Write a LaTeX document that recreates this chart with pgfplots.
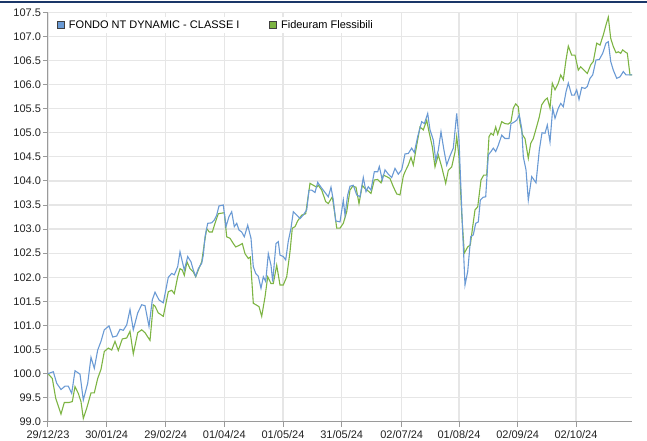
\documentclass[border=0pt]{standalone}
\usepackage{fontspec}
\setmainfont{Liberation Sans}
\usepackage{pgfplots}
\pgfplotsset{compat=1.18}
\definecolor{blueS}{HTML}{6A9AD4}
\definecolor{greenS}{HTML}{7DB443}
\definecolor{navyB}{HTML}{1A3668}
\definecolor{axisG}{HTML}{9A9A9A}
\definecolor{gridG}{HTML}{E6E6E6}
\definecolor{txt}{HTML}{222222}
\begin{document}
\begin{tikzpicture}
\useasboundingbox (-48pt,-18.2pt) rectangle (599pt,421.8pt);
\draw[navyB, line width=1.6pt] (-48pt,419.6pt) -- (599pt,419.6pt);
\begin{axis}[
  at={(0pt,0pt)}, anchor=south west,
  scale only axis, width=584pt, height=409.5pt,
  xmin=48, xmax=632, ymin=99, ymax=107.5,
  axis x line*=bottom, axis y line*=left,
  axis line style={-, draw=axisG, line width=1pt},
  xtick={48,106.7,165.7,224.3,283,341.7,401.7,459,517.7,576},
  xticklabels={29/12/23,30/01/24,29/02/24,01/04/24,01/05/24,31/05/24,02/07/24,01/08/24,02/09/24,02/10/24},
  ytick={99,99.5,...,107.5},
  yticklabel style={/pgf/number format/fixed,/pgf/number format/fixed zerofill,/pgf/number format/precision=1, xshift=1.5pt},
  /pgf/number format/assume math mode=true,
  ticklabel style={font=\fontsize{11}{13}\selectfont, text=txt},
  tick align=outside, major tick length=5pt,
  tick style={draw=axisG, line width=1pt},
  grid=major, major grid style={draw=gridG, line width=1.3pt},
  legend columns=2,
  legend cell align=left,
  legend style={at={(0.014,0.988)}, anchor=north west, draw=none, fill=white,
    font=\fontsize{11}{13}\selectfont, inner sep=1pt,
    /tikz/every even column/.append style={column sep=26pt},
    nodes={inner xsep=4pt}},
]
\addlegendimage{legend image code/.code={\draw[fill=blueS, draw=black!75, line width=0.6pt] (0pt,-3.5pt) rectangle (7pt,3.5pt);}}
\addlegendentry{FONDO NT DYNAMIC - CLASSE I}
\addlegendimage{legend image code/.code={\draw[fill=greenS, draw=black!75, line width=0.6pt] (0pt,-3.5pt) rectangle (7pt,3.5pt);}}
\addlegendentry{Fideuram Flessibili}
\addplot[greenS, line width=1.1pt, forget plot] coordinates {
(48,100.00) (52.3,99.90) (55.7,99.49) (61,99.16) (64.3,99.40) (69,99.40) (72.3,99.42) (75,99.73) (78.3,99.59) (81,99.42) (83.3,99.07) (86.7,99.28) (91,99.60) (94.3,99.60) (97.7,99.90) (101,100.09) (104.3,100.46) (108.3,100.53) (111.7,100.49) (115,100.67) (118.3,100.48) (122.3,100.72) (126.7,100.74) (130,100.88) (133.3,100.41) (137.7,100.85) (141.7,100.91) (145,100.85) (150,100.69) (153.3,101.43) (155,101.40) (158.3,101.26) (163.3,101.19) (168.3,101.70) (171.7,101.73) (174.3,101.66) (177.7,102.01) (180,102.18) (182.3,102.15) (184.3,102.04) (187,102.32) (190,102.18) (193.3,102.11) (195.7,102.01) (198.3,102.15) (201.7,102.32) (204.3,102.70) (206.7,103.01) (209.3,102.94) (212.3,102.94) (215,103.12) (218.3,103.32) (224.3,103.34) (226.7,102.84) (230,102.81) (233.3,102.70) (235.7,102.63) (239,102.66) (242.3,102.70) (245,102.49) (248.3,102.39) (250.3,102.42) (253.3,101.46) (256.7,101.42) (259,101.39) (261.7,101.19) (265,101.59) (267.7,102.01) (271,101.87) (273.3,101.87) (276.7,102.25) (280,101.84) (283.3,101.84) (286.7,102.01) (290,102.53) (292.3,103.02) (295,103.05) (297.7,103.17) (301.7,103.29) (305.7,103.32) (310,103.95) (313.3,103.91) (316.7,103.87) (318.3,103.91) (321.7,103.81) (325.7,103.57) (328.3,103.53) (332.3,103.67) (335,103.29) (336.7,103.02) (340,103.02) (343.3,103.12) (346.7,103.36) (350,103.81) (352.7,103.89) (356,103.87) (359,103.53) (362.3,103.91) (365,103.84) (368.3,103.79) (371,103.74) (374.3,104.02) (377.7,104.03) (381,103.96) (383.3,104.12) (386.7,104.09) (390,104.05) (393.3,103.88) (396.7,103.73) (400,103.71) (403.3,104.10) (405,104.19) (408.3,104.33) (411,104.49) (413.3,104.33) (416.7,104.74) (420,105.12) (423.3,105.06) (426.7,105.26) (429,105.02) (432.3,104.71) (435,104.29) (438.3,104.54) (441.7,104.29) (445.7,103.95) (448.3,104.22) (451.7,104.29) (455,104.60) (456.7,104.92) (459,104.50) (461.7,103.32) (464.3,102.50) (467.7,102.63) (470.3,102.67) (472.7,103.05) (475,103.40) (477.7,103.46) (481,104.02) (483.7,104.12) (486.7,104.12) (489,104.92) (491,104.99) (493.3,104.95) (495.7,105.12) (497.7,104.97) (501.7,105.23) (505,105.19) (508.3,105.18) (511,105.23) (513.3,105.51) (515.7,105.60) (518.3,105.54) (520,105.20) (522.7,104.95) (525,104.88) (528.3,104.47) (530.7,104.78) (533.3,104.88) (536.7,105.13) (539.3,105.33) (541.7,105.58) (545,105.68) (547.3,105.72) (550,105.51) (552.3,106.03) (555,105.89) (558.3,106.03) (560.7,106.20) (563.3,106.10) (566,106.51) (568.3,106.80) (571.7,106.61) (575,106.61) (578.3,106.30) (580.7,106.37) (584,106.30) (587.3,106.23) (590.7,106.41) (593.3,106.48) (596.7,106.86) (600,106.82) (603.3,107.03) (606,107.24) (608.3,107.40) (610.7,106.96) (613.3,106.79) (616,106.66) (618.3,106.68) (620.7,106.65) (622.7,106.72) (625,106.68) (627.3,106.65) (630,106.20) (632,106.20)
};
\addplot[blueS, line width=1.1pt, forget plot] coordinates {
(48,100.00) (53.3,100.04) (56.7,99.80) (61,99.67) (65,99.74) (68.3,99.74) (71.7,99.59) (75,100.06) (80,99.99) (83.3,99.45) (87.7,99.80) (91,100.34) (94.3,100.11) (97.7,100.49) (101,100.67) (104.3,100.91) (109,100.99) (112.7,100.76) (116.7,100.78) (120,100.92) (123.3,100.90) (126.7,101.01) (130,101.33) (133.3,100.91) (137.7,101.26) (141.7,101.43) (145,101.41) (149,100.98) (152.3,101.53) (155,101.69) (159,101.53) (163.3,101.47) (168.3,102.00) (171.7,102.08) (174.3,102.05) (177.7,102.22) (180,102.53) (184.3,102.15) (187.7,102.43) (191,102.32) (193.3,102.15) (195.7,102.02) (198.3,102.18) (201.7,102.29) (203.3,102.46) (205,102.84) (207.7,103.12) (211.7,103.13) (214.3,103.19) (216.7,103.29) (219,103.48) (223.3,103.50) (226,103.05) (229,103.26) (231.7,103.36) (234.3,103.05) (236.7,103.12) (239,102.98) (241.7,102.94) (244.3,102.84) (247.7,103.08) (251,102.81) (253.3,102.22) (255.7,102.08) (258.3,102.02) (261,101.77) (263.3,102.01) (265.7,101.91) (268.3,102.49) (271,102.25) (272.7,101.91) (276,102.70) (278.3,102.74) (280,102.46) (283.3,102.43) (285.7,102.36) (288.3,102.75) (291,103.02) (293.3,103.36) (296.7,103.29) (300,103.22) (303.3,103.29) (306.7,103.40) (309,103.81) (311.7,103.81) (315,103.76) (317.7,103.97) (321,103.87) (324.3,103.78) (328.3,103.67) (331,103.87) (333.3,103.60) (335.7,103.17) (340,103.15) (343.3,103.60) (345,103.29) (347.7,103.71) (350,103.89) (353.3,103.91) (356.7,103.71) (360,103.67) (363.3,104.07) (366,103.78) (368.3,103.88) (371,103.81) (374.3,104.19) (377.7,104.19) (379.3,104.30) (382.3,104.02) (385,104.23) (388.3,104.14) (391.7,104.07) (395,104.26) (398.3,104.14) (401.7,104.23) (405,104.56) (408.3,104.57) (411.7,104.68) (414.3,104.59) (417.7,104.92) (421.7,105.23) (424.3,105.19) (427.7,105.40) (430,105.06) (433.3,104.85) (435.7,104.43) (438.3,104.64) (441,105.02) (443.7,104.67) (446.7,104.33) (450,104.52) (453.3,104.68) (456.7,105.40) (459,104.85) (462.3,103.12) (465,101.84) (467.7,102.12) (470.7,102.84) (473.3,102.88) (475.7,103.12) (478.3,103.15) (480.3,103.60) (483,103.66) (485.7,103.67) (488.3,104.54) (491,104.61) (493.3,104.68) (495.7,104.61) (498.3,104.74) (501.7,104.95) (505,104.88) (509,104.88) (511,105.19) (513.3,105.21) (516.7,105.26) (519.3,105.37) (521.7,105.09) (523.3,104.50) (526,104.23) (528.3,103.60) (531.7,104.09) (536,103.96) (539.3,104.64) (542,105.00) (545,104.99) (547.3,105.16) (550,104.81) (552.7,105.51) (555,105.30) (558.3,105.51) (560.7,105.61) (563.3,105.54) (566,105.85) (568.3,106.03) (571.7,105.78) (574.3,105.78) (576.7,105.89) (579,105.69) (581.7,105.94) (585,105.92) (587.3,105.96) (590,106.13) (592.7,106.20) (596,106.51) (599.3,106.52) (602.7,106.65) (606,106.86) (608.3,106.89) (610.7,106.48) (613.3,106.30) (616.7,106.13) (620,106.16) (623.3,106.27) (626,106.20) (629.3,106.20) (632,106.20)
};
\end{axis}
\end{tikzpicture}
\end{document}
